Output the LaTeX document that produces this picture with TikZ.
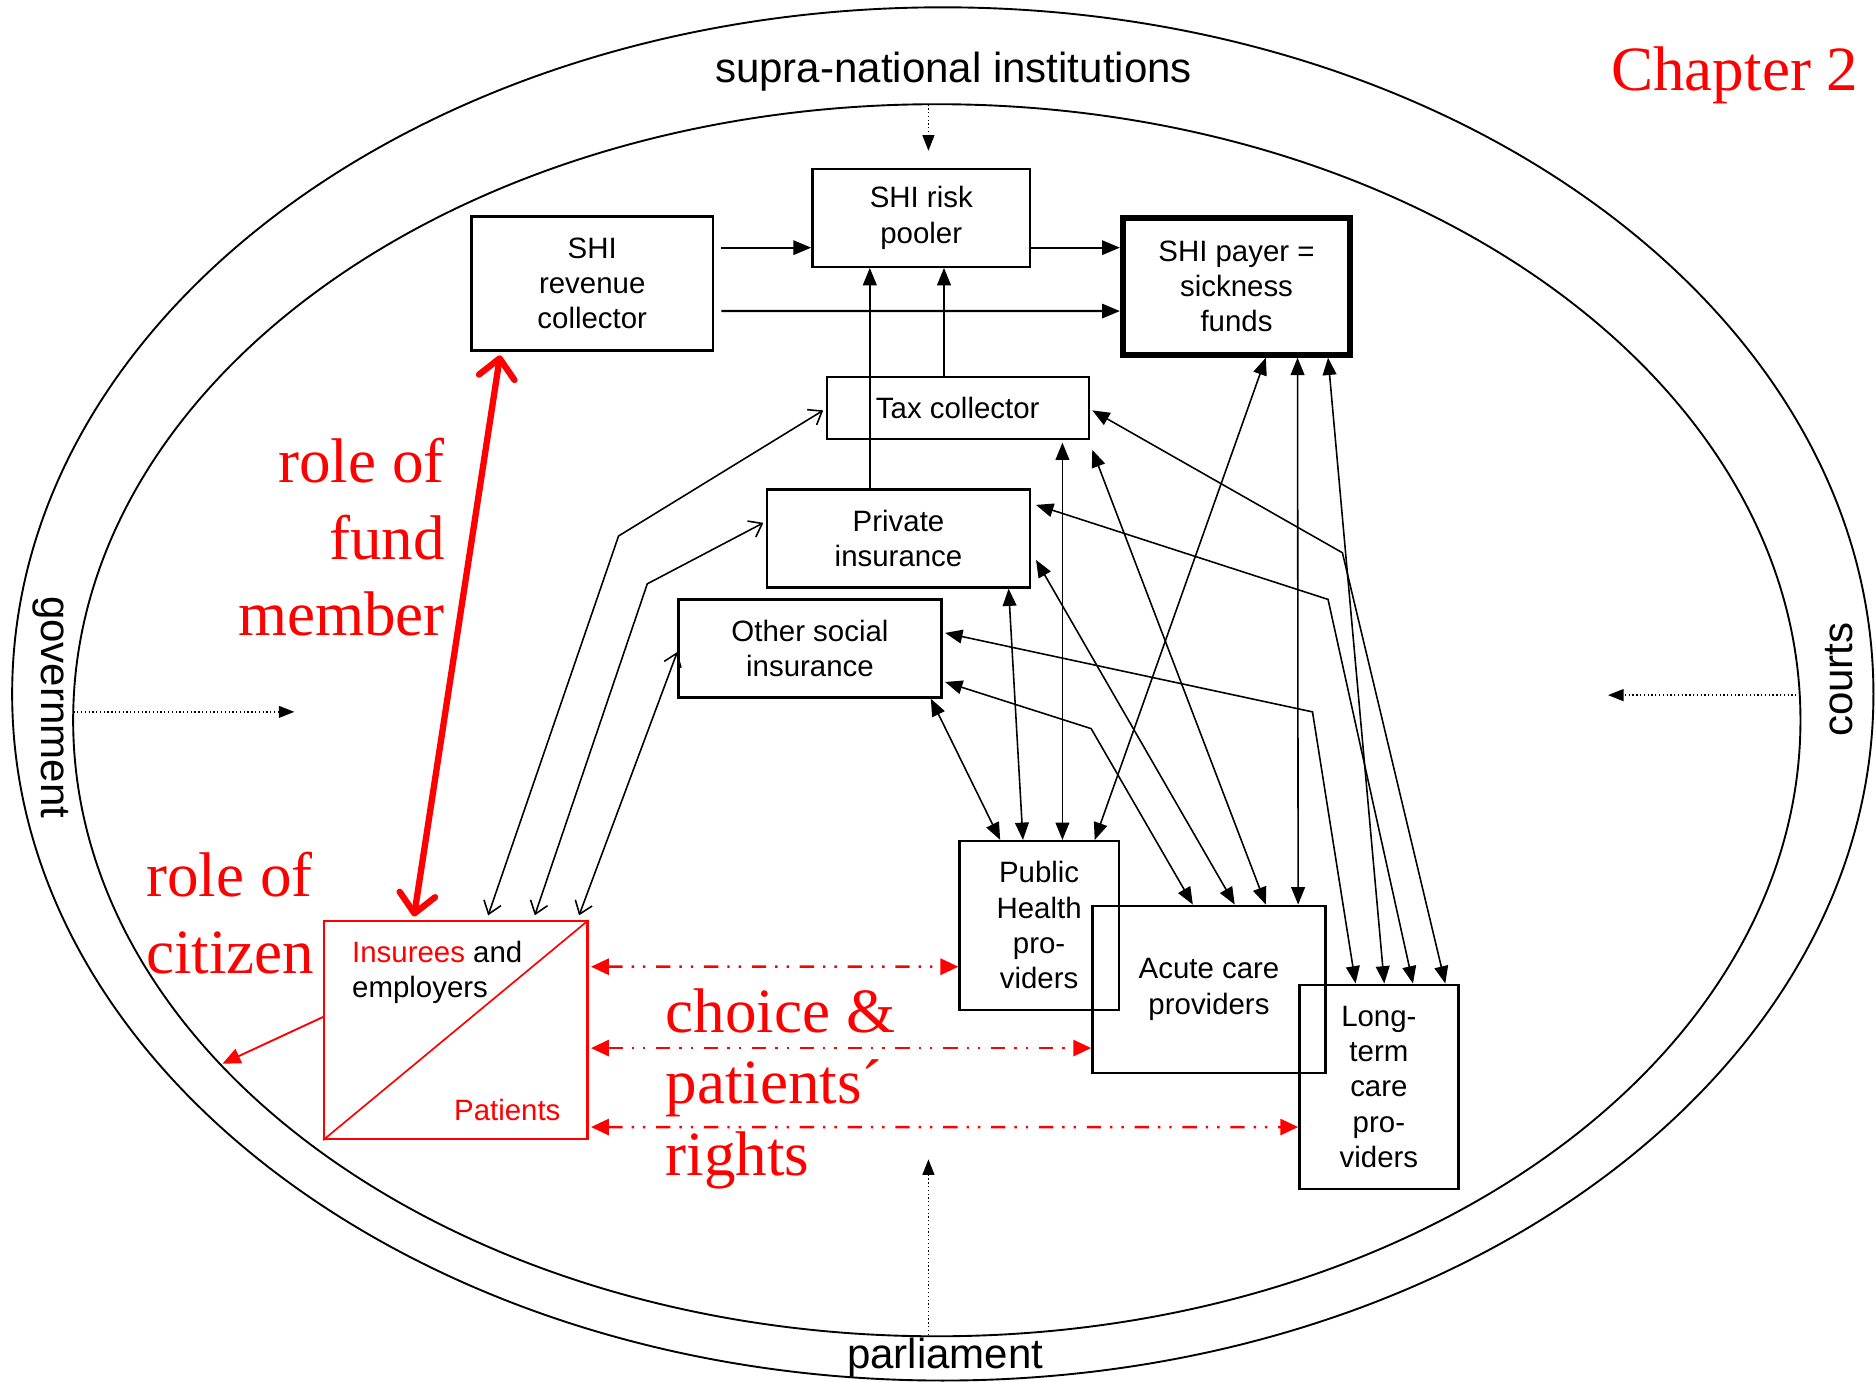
\documentclass[tikz,border=0pt]{standalone}
\usepackage{fontspec}
\setmainfont{Liberation Sans}
\newfontfamily\redserif{Liberation Serif}
\usetikzlibrary{arrows.meta,calc,shapes.geometric}
\begin{document}
\begin{tikzpicture}[x=0.02cm,y=-0.02cm,
  box/.style={draw, line width=1.1pt, inner sep=0pt, align=center,
    font=\fontsize{14}{16.8}\selectfont},
  lbl/.style={font=\fontsize{20}{24}\selectfont, inner sep=0pt},
  redlbl/.style={text=red, inner sep=0pt, font=\redserif\fontsize{30}{36.4}\selectfont},
  ell/.style={draw, ellipse, line width=0.9pt, inner sep=0pt},
  conn/.style={line width=0.75pt},
  tri/.style={conn, -{Triangle[length=0.29cm,width=0.23cm]}},
  bi/.style={conn, {Triangle[length=0.29cm,width=0.23cm]}-{Triangle[length=0.29cm,width=0.23cm]}},
  openbi/.style={conn, {Straight Barb[length=0.2cm,width=0.3cm]}-{Straight Barb[length=0.2cm,width=0.3cm]}},
  flow/.style={line width=1.1pt, -{Triangle[length=0.3cm,width=0.24cm]}},
  dotarr/.style={line width=0.6pt, dash pattern=on 0.6pt off 1.2pt, -{Triangle[length=0.26cm,width=0.2cm]}},
  redthick/.style={draw=red, line width=3pt,
    {Straight Barb[length=0.32cm,width=0.6cm,line cap=round,line join=round]}-{Straight Barb[length=0.32cm,width=0.6cm,line cap=round,line join=round]}},
  reddash/.style={draw=red, line width=1.2pt,
    dash pattern=on 0.24cm off 0.15cm on 0.04cm off 0.15cm on 0.04cm off 0.18cm,
    {Triangle[length=0.3cm,width=0.27cm]}-{Triangle[length=0.3cm,width=0.27cm]}},
  redthin/.style={draw=red, line width=0.9pt, -{Triangle[length=0.3cm,width=0.26cm]}}
]
\useasboundingbox (0,0) rectangle (1568,1155);

% ellipses
\node[ell, minimum width=31.12cm, minimum height=22.96cm] (outerell) at (788,580) {};
\node[ell, minimum width=28.88cm, minimum height=20.60cm] (innerell) at (783,602) {};

% outer labels
\node[lbl] (supra) at (797,60) {supra-national institutions};
\node[lbl] (parl) at (790,1135) {parliament};
\node[lbl, rotate=-90] (gov) at (42,591) {government};
\node[lbl, rotate=90] (courts) at (1537,568) {courts};
\node[text=red, inner sep=0pt, font=\redserif\fontsize{30}{36}\selectfont] (chap) at (1450,63) {Chapter 2};

% dotted arrows
\coordinate (dtop) at (776,126);
\coordinate (dleft) at (246,595);
\coordinate (dright) at (1344,581);
\coordinate (dbot) at (776,969);
\draw[dotarr] ($(innerell.north)+(-7,1)$) -- (dtop);
\draw[dotarr] ($(innerell.west)+(1,-7)$) -- (dleft);
\draw[dotarr] ($(innerell.east)+(-1,-21)$) -- (dright);
\draw[dotarr] ($(innerell.south)+(-7,-2)$) -- (dbot);

% boxes
\node[box, minimum width=4.04cm, minimum height=2.24cm] (rev) at (495,237) {SHI\\revenue\\collector};
\node[box, minimum width=3.64cm, minimum height=1.64cm] (pool) at (770,182) {SHI risk\\pooler};
\node[box, line width=2.8pt, minimum width=3.80cm, minimum height=2.28cm] (pay) at (1033.5,239.5) {SHI payer =\\sickness\\funds};
\node[box, minimum width=4.38cm, minimum height=1.04cm] (tax) at (800.5,341) {Tax collector};
\node[box, minimum width=4.40cm, minimum height=1.64cm] (priv) at (751,450) {Private\\insurance};
\node[box, minimum width=4.40cm, minimum height=1.64cm] (oth) at (677,542) {Other social\\insurance};
\node[box, minimum width=2.66cm, minimum height=2.82cm] (pub) at (868.5,773.5) {Public\\Health\\pro-\\viders};
\node[box, minimum width=3.90cm, minimum height=2.80cm] (acu) at (1010.5,827) {Acute care\\providers};
\node[box, minimum width=2.66cm, minimum height=3.42cm] (ltc) at (1152.5,908.5) {Long-\\term\\care\\pro-\\viders};
\node[box, draw=red, minimum width=4.40cm, minimum height=3.64cm] (ins) at (381,861) {};
\draw[red, line width=0.8pt] (ins.south west) -- (ins.north east);
\node[anchor=west, align=left, inner sep=0pt, font=\fontsize{14}{16.8}\selectfont] (instext) at (294,813) {\textcolor{red}{Insurees} and\\employers};
\node[text=red, inner sep=0pt, font=\fontsize{14}{16.8}\selectfont] (pattext) at (424,928) {Patients};

% top flows
\draw[flow] ($(rev.east)+(6,-30)$) -- ($(pool.west)+(0,25)$);
\draw[flow] ($(rev.east)+(6,23)$) -- ($(pay.west)+(0,20.5)$);
\draw[flow] ($(pool.east)+(0,25)$) -- ($(pay.west)+(0,-32.5)$);
\draw[tri] ($(priv.north)+(-24,0)$) -- ($(pool.south)+(-43,0)$);
\draw[tri] ($(tax.north)+(-11.5,0)$) -- ($(pool.south)+(19,0)$);

% open arrows from insurees
\draw[openbi] ($(ins.north)+(27,-4)$) -- (517,448) -- ($(tax.west)+(-2,2)$);
\draw[openbi] ($(ins.north)+(66,-4)$) -- (541,488) -- ($(priv.west)+(-2,-13)$);
\draw[openbi] ($(ins.north)+(103,-4)$) -- ($(oth.west)+(0,3)$);

% insurers <-> providers
\draw[bi] ($(tax.east)+(2,2)$) -- (1122,462) -- ($(ltc.north)+(55.5,0)$);
\draw[bi] ($(tax.south east)+(2,8)$) -- ($(acu.north)+(47.5,0)$);
\draw[bi] ($(tax.south)+(87.5,2)$) -- ($(pub.north)+(19.5,0)$);
\draw[bi] ($(priv.east)+(4,-28)$) -- (1110,501) -- ($(ltc.north)+(28.5,0)$);
\draw[bi] ($(priv.east)+(4,18)$) -- ($(acu.north)+(21.5,0)$);
\draw[bi] ($(priv.south)+(92,0)$) -- ($(pub.north)+(-13.5,0)$);
\draw[bi] ($(oth.east)+(2,-13)$) -- (1097,595) -- ($(ltc.north)+(-19.5,0)$);
\draw[bi] ($(oth.east)+(2,28)$) -- (912,609) -- ($(acu.north)+(-13.5,0)$);
\draw[bi] ($(oth.south)+(101,0)$) -- ($(pub.north)+(-32.5,0)$);
\draw[bi] ($(pay.south)+(24.5,0)$) -- ($(pub.north)+(46.5,0)$);
\draw[bi] ($(pay.south)+(51,0)$) -- ($(acu.north)+(74.5,0)$);
\draw[bi] ($(pay.south)+(76.5,0)$) -- ($(ltc.north)+(4.5,0)$);

% red connectors
\draw[redthick] ($(rev.south)+(-77,3)$) -- ($(ins.north)+(-35,-3)$);
\coordinate (redend) at (186,889);
\draw[redthin] ($(ins.west)+(0,-11)$) -- (redend);
\draw[reddash] ($(ins.east)+(2,-53)$) -- ($(pub.west)+(0,34.5)$);
\draw[reddash] ($(ins.east)+(2,15)$) -- ($(acu.west)+(0,49)$);
\draw[reddash] ($(ins.east)+(2,81)$) -- ($(ltc.west)+(0,33.5)$);

% red labels
\node[redlbl, anchor=east, align=right] (fund) at (372,449) {role of\\fund\\member};
\node[redlbl, anchor=west, align=left] (citizen) at (122,763) {role of\\citizen};
\node[redlbl, anchor=west, align=left, font=\redserif\fontsize{30}{34}\selectfont] (choice) at (556,910) {choice \&\\patients´\\rights};
\end{tikzpicture}
\end{document}
